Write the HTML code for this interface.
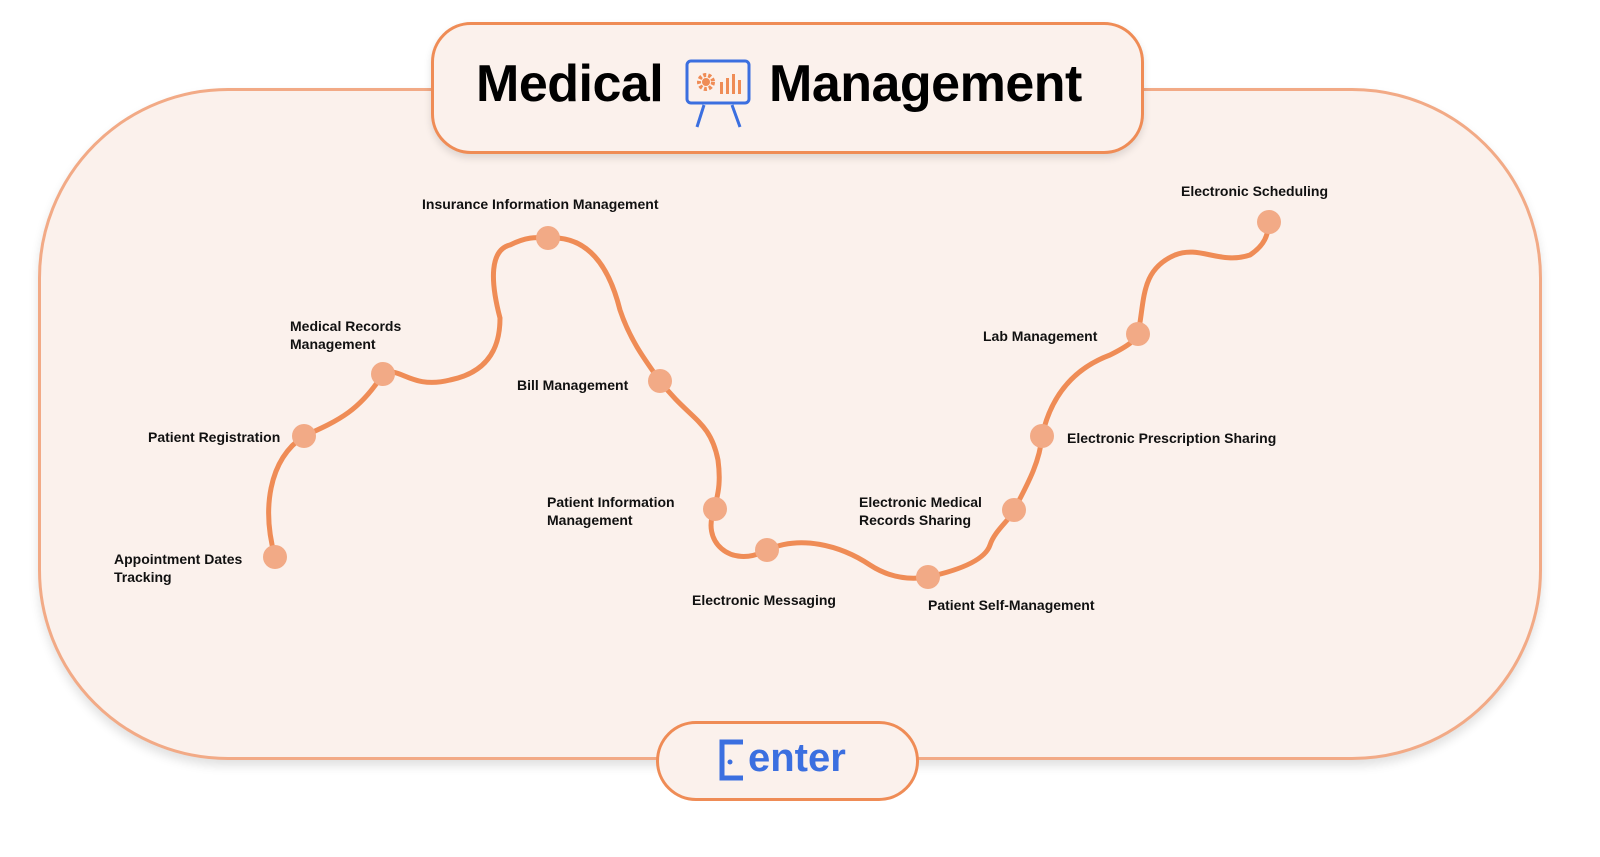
<!DOCTYPE html>
<html><head><meta charset="utf-8"><style>
body{margin:0;width:1600px;height:857px;background:#fff;position:relative;overflow:hidden;font-family:"Liberation Sans",Arial,sans-serif}
.main{position:absolute;left:38px;top:88px;width:1498px;height:666px;border:3px solid #f2aa86;border-radius:190px;background:#fbf1ec;box-shadow:0 6px 10px rgba(0,0,0,0.12)}
.title{position:absolute;left:431px;top:22px;width:707px;height:126px;border:3px solid #ef8c56;border-radius:40px;background:#fbf1ec;box-shadow:0 4px 8px rgba(0,0,0,0.12)}
.enter{position:absolute;left:656px;top:721px;width:257px;height:74px;border:3px solid #ef8c56;border-radius:40px;background:#fbf1ec}
.t{position:absolute;font-size:52px;font-weight:bold;color:#000;top:54px;letter-spacing:-0.5px}
.lbl{position:absolute;font-size:14px;font-weight:bold;color:#111;line-height:18px}
</style></head><body>
<div class="main"></div>
<div class="title"></div>
<div class="t" style="left:476px">Medical</div>
<div class="t" style="left:769px">Management</div>
<svg style="position:absolute;left:684px;top:58px" width="70" height="72">
<rect x="3" y="3" width="62" height="42" rx="4" fill="#fbf1ec" stroke="#3b6fe0" stroke-width="3"/>
<circle cx="22" cy="24" r="7" fill="none" stroke="#ef8c56" stroke-width="4" stroke-dasharray="3 2"/>
<circle cx="22" cy="24" r="4" fill="#ef8c56"/>
<rect x="36" y="24" width="3" height="12" fill="#ef8c56"/><rect x="42" y="20" width="3" height="16" fill="#ef8c56"/><rect x="48" y="16" width="3" height="20" fill="#ef8c56"/><rect x="54" y="22" width="3" height="14" fill="#ef8c56"/>
<line x1="20" y1="47" x2="13" y2="69" stroke="#3b6fe0" stroke-width="3"/><line x1="48" y1="47" x2="56" y2="69" stroke="#3b6fe0" stroke-width="3"/>
</svg>
<div class="enter"></div>
<svg style="position:absolute;left:716px;top:738px" width="32" height="44"><path d="M27 4 H6 V40 H27" fill="none" stroke="#3b6fe0" stroke-width="5"/><circle cx="14" cy="24" r="2.5" fill="#3b6fe0"/></svg>
<div style="position:absolute;left:748px;top:736px;font-size:40px;font-weight:bold;color:#3b6fe0">enter</div>
<svg style="position:absolute;left:0;top:0" width="1600" height="857">
<path d="M275 557 C262 510 268 460 304 436 C340 420 360 410 383 374 C400 365 410 390 450 380 C500 370 500 330 500 318 C490 280 490 250 510 245 C530 235 540 238 548 238 C590 235 610 270 620 310 C630 340 645 360 660 381 C690 420 710 420 718 460 C722 490 715 500 715 509 C700 540 730 570 767 550 C800 535 840 545 870 565 C890 578 910 580 928 577 C960 570 985 560 990 545 C995 530 1010 520 1014 510 C1030 480 1040 460 1042 436 C1050 400 1070 370 1110 355 C1130 345 1135 340 1138 334 C1145 300 1140 270 1175 255 C1200 245 1220 265 1250 255 C1265 245 1268 235 1269 222" fill="none" stroke="#ef8c56" stroke-width="5"/>
<g fill="#f2aa86">
<circle cx="275" cy="557" r="12"/><circle cx="304" cy="436" r="12"/><circle cx="383" cy="374" r="12"/><circle cx="548" cy="238" r="12"/><circle cx="660" cy="381" r="12"/><circle cx="715" cy="509" r="12"/><circle cx="767" cy="550" r="12"/><circle cx="928" cy="577" r="12"/><circle cx="1014" cy="510" r="12"/><circle cx="1042" cy="436" r="12"/><circle cx="1138" cy="334" r="12"/><circle cx="1269" cy="222" r="12"/>
</g></svg>
<div class="lbl" style="left:114px;top:550px">Appointment Dates<br>Tracking</div>
<div class="lbl" style="left:148px;top:428px">Patient Registration</div>
<div class="lbl" style="left:290px;top:317px">Medical Records<br>Management</div>
<div class="lbl" style="left:422px;top:195px">Insurance Information Management</div>
<div class="lbl" style="left:517px;top:376px">Bill Management</div>
<div class="lbl" style="left:547px;top:493px">Patient Information<br>Management</div>
<div class="lbl" style="left:692px;top:591px">Electronic Messaging</div>
<div class="lbl" style="left:928px;top:596px">Patient Self-Management</div>
<div class="lbl" style="left:859px;top:493px">Electronic Medical<br>Records Sharing</div>
<div class="lbl" style="left:1067px;top:429px">Electronic Prescription Sharing</div>
<div class="lbl" style="left:983px;top:327px">Lab Management</div>
<div class="lbl" style="left:1181px;top:182px">Electronic Scheduling</div>
</body></html>
